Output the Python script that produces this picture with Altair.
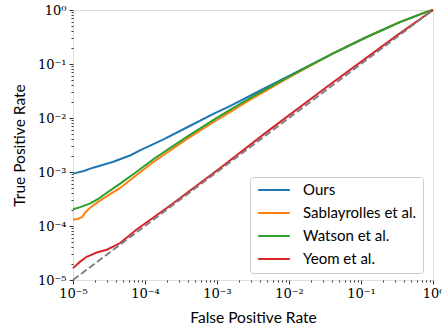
import altair as alt
import pandas as pd

series_names = ["Ours", "Sablayrolles et al.", "Watson et al.", "Yeom et al."]
series_colors = ["#1f77b4", "#ff7f0e", "#2ca02c", "#d62728"]

# curves, as log10(FPR), log10(TPR)
ours_log_fpr = [-5.0, -4.85, -4.72, -4.44, -4.2, -4.07, -3.75, -3.44, -3.03, -2.82, -2.5, -2.0, -1.7, -1.38, -0.92, -0.46, -0.09, 0.0]
ours_log_tpr = [-3.03, -2.98, -2.92, -2.81, -2.69, -2.60, -2.40, -2.19, -1.91, -1.78, -1.56, -1.22, -1.015, -0.80, -0.50, -0.225, -0.035, 0.0]

sab_log_fpr = [-5.0, -4.93, -4.87, -4.83, -4.76, -4.70, -4.58, -4.35, -4.12, -3.88, -3.43, -3.03, -2.82, -2.5, -2.0, -1.7, -1.38, -0.92, -0.46, -0.09, 0.0]
sab_log_tpr = [-3.88, -3.87, -3.83, -3.75, -3.66, -3.60, -3.49, -3.30, -3.06, -2.81, -2.40, -2.06, -1.89, -1.63, -1.25, -1.03, -0.80, -0.50, -0.225, -0.035, 0.0]

wat_log_fpr = [-5.0, -4.9, -4.76, -4.65, -4.58, -4.35, -4.12, -3.88, -3.43, -3.03, -2.82, -2.5, -2.0, -1.7, -1.38, -0.92, -0.46, -0.09, 0.0]
wat_log_tpr = [-3.69, -3.65, -3.58, -3.50, -3.43, -3.22, -3.0, -2.76, -2.36, -2.02, -1.85, -1.60, -1.235, -1.02, -0.80, -0.50, -0.225, -0.035, 0.0]

yeom_log_fpr = [-5.0, -4.9, -4.81, -4.67, -4.53, -4.35, -4.12, -3.65, -2.96, -2.33, -1.5, -0.5, 0.0]
yeom_log_tpr = [-4.78, -4.66, -4.57, -4.49, -4.44, -4.32, -4.07, -3.62, -2.93, -2.28, -1.45, -0.47, 0.0]

diag_rate = [1e-5, 1.0]

rows = []
for name, lx, ly in [
    ("Ours", ours_log_fpr, ours_log_tpr),
    ("Sablayrolles et al.", sab_log_fpr, sab_log_tpr),
    ("Watson et al.", wat_log_fpr, wat_log_tpr),
    ("Yeom et al.", yeom_log_fpr, yeom_log_tpr),
]:
    for i, (a, b) in enumerate(zip(lx, ly)):
        rows.append({"series": name, "fpr": 10 ** a, "tpr": 10 ** b, "idx": i})
df = pd.DataFrame(rows)
diag = pd.DataFrame({"fpr": diag_rate, "tpr": diag_rate})

tick_values = []
for d in range(-5, 0):
    for k in range(1, 10):
        tick_values.append(k * 10.0 ** d)
tick_values.append(1.0)

exp_ = "round(log(datum.value)/LN10)"
is_decade = f"abs(log(datum.value)/LN10 - {exp_}) < 0.01"
label_expr = (
    f"({is_decade}) ? ('10' + ({exp_} < 0 ? '⁻' : '') + "
    f"['⁰','¹','²','³','⁴','⁵'][abs({exp_})]) : ''"
)
tick_size = {"condition": {"test": is_decade, "value": 4}, "value": 2}


def make_axis(title, title_pad):
    return alt.Axis(
        values=tick_values,
        labelExpr=label_expr,
        tickSize=tick_size,
        tickColor="black",
        tickWidth=0.8,
        domain=False,
        grid=False,
        labelOverlap=False,
        labelFlush=False,
        labelFont="DejaVu Serif",
        labelFontSize=13,
        labelColor="black",
        labelPadding=3,
        title=title,
        titleFont="Lato",
        titleFontSize=15.5,
        titleFontWeight="normal",
        titleColor="black",
        titlePadding=title_pad,
    )


xs = alt.Scale(type="log", domain=[1e-5, 1])
ys = alt.Scale(type="log", domain=[1e-5, 1])

lines = alt.Chart(df).mark_line(strokeWidth=2).encode(
    x=alt.X("fpr:Q", scale=xs, axis=make_axis("False Positive Rate", 10)),
    y=alt.Y("tpr:Q", scale=ys, axis=make_axis("True Positive Rate", 10)),
    color=alt.Color(
        "series:N",
        scale=alt.Scale(domain=series_names, range=series_colors),
        legend=alt.Legend(
            title=None,
            orient="none",
            legendX=177,
            legendY=167,
            symbolType="stroke",
            symbolStrokeWidth=2,
            symbolSize=1000,
            symbolOffset=1,
            clipHeight=14,
            labelFont="Lato",
            labelFontSize=15,
            labelColor="black",
            labelOffset=12,
            fillColor="white",
            strokeColor="#cccccc",
            cornerRadius=3,
            padding=6,
            rowPadding=8,
        ),
    ),
    order="idx:Q",
)

diag_line = alt.Chart(diag).mark_line(
    strokeWidth=2, color="#7f7f7f", strokeDash=[7, 3]
).encode(x=alt.X("fpr:Q", scale=xs), y=alt.Y("tpr:Q", scale=ys))

chart = (
    alt.layer(lines, diag_line)
    .properties(
        width=360,
        height=270,
        autosize=alt.AutoSizeParams(type="none"),
        padding={"left": 73, "top": 10, "right": 9, "bottom": 51},
    )
    .configure_view(stroke="#222222", strokeWidth=1.2)
    .configure(background="white")
)

chart.save("out.html", embed_options={"renderer": "svg", "actions": False})
